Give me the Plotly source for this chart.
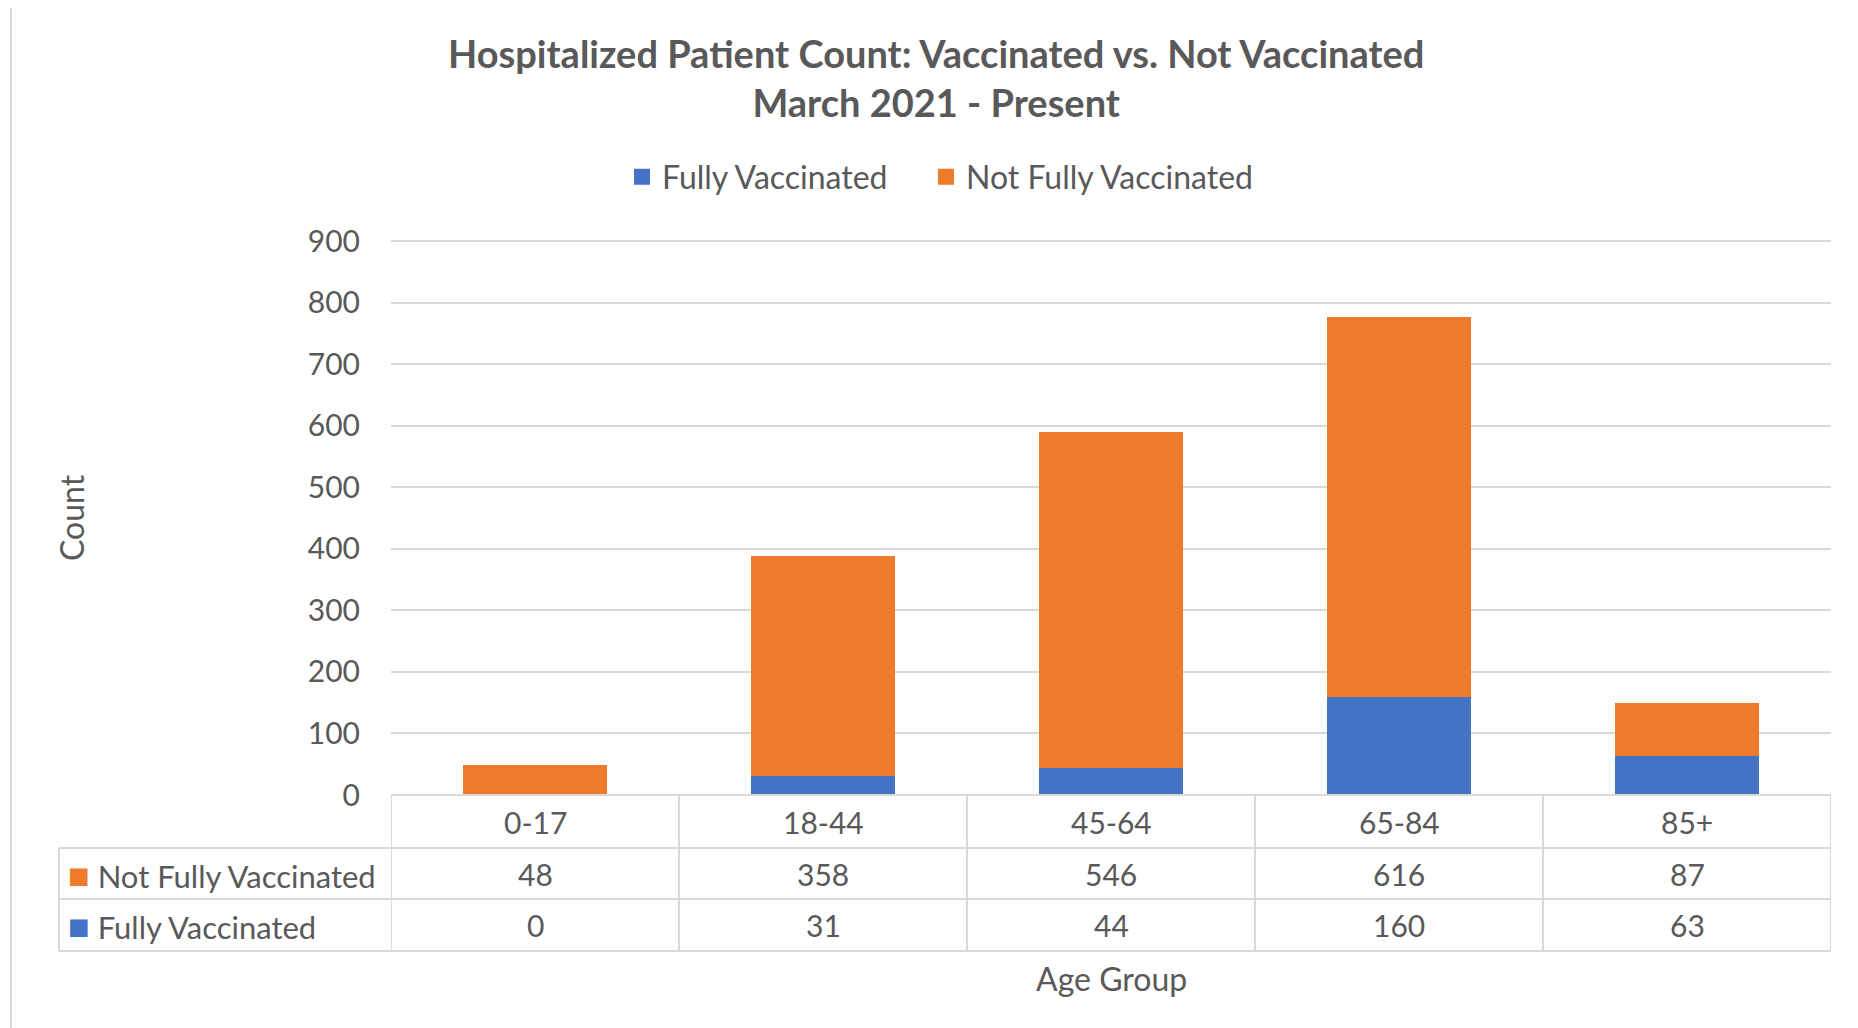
import plotly.graph_objects as go

# ---- data ----
age_groups = ["0-17", "18-44", "45-64", "65-84", "85+"]
fully_vaccinated = [0, 31, 44, 160, 63]
not_fully_vaccinated = [48, 358, 546, 616, 87]
y_ticks = [0, 100, 200, 300, 400, 500, 600, 700, 800, 900]
series_names = ["Fully Vaccinated", "Not Fully Vaccinated"]

W, H = 1858, 1028
OFF = 8  # page body margin
FONT = "Lato"
TXT = "#595959"
GRID = "#D9D9D9"
BLUE = "#4472C4"
ORANGE = "#EE7A2C"


def px(x):
    return (x - OFF) / W


def py(y):
    return 1 - (y - OFF) / H


PLOT_L, PLOT_R, PLOT_T, PLOT_B = 391, 1831, 241, 795
ROW1, ROW2, ROW3 = 848, 899, 951
TABLE_L = 59
YMAX = 905
top_px = PLOT_B - (PLOT_B - PLOT_T) * YMAX / 900

fig = go.Figure()
fig.add_trace(go.Bar(x=age_groups, y=fully_vaccinated, name=series_names[0], showlegend=False,
                     marker=dict(color=BLUE, line=dict(width=0)), width=0.5))
fig.add_trace(go.Bar(x=age_groups, y=not_fully_vaccinated, name=series_names[1], showlegend=False,
                     marker=dict(color=ORANGE, line=dict(width=0)), width=0.5))
# legend entries with square swatches (one legend box per entry)
for name, col, lg in zip(series_names, [BLUE, ORANGE], ["legend", "legend2"]):
    fig.add_trace(go.Scatter(x=[None], y=[None], mode="markers", name=name, legend=lg,
                             marker=dict(symbol="square", size=16, color=col, line=dict(width=0))))

shapes = []
# outer chart border (left & top)
shapes.append(dict(type="line", xref="paper", yref="paper", x0=px(11), x1=px(11), y0=py(5), y1=0,
                   line=dict(color=GRID, width=2)))
shapes.append(dict(type="line", xref="paper", yref="paper", x0=px(11), x1=1, y0=py(5), y1=py(5),
                   line=dict(color=GRID, width=2)))
# table horizontal lines
for yy in [PLOT_B, ROW1, ROW2, ROW3]:
    x0 = PLOT_L if yy == PLOT_B else TABLE_L
    shapes.append(dict(type="line", xref="paper", yref="paper", x0=px(x0), x1=px(PLOT_R),
                       y0=py(yy), y1=py(yy), line=dict(color=GRID, width=2), layer="above"))
# table vertical lines at category boundaries
for i in range(len(age_groups) + 1):
    shapes.append(dict(type="line", xref="x", yref="paper", x0=i - 0.5, x1=i - 0.5,
                       y0=py(PLOT_B), y1=py(ROW3), line=dict(color=GRID, width=2)))
shapes.append(dict(type="line", xref="paper", yref="paper", x0=px(TABLE_L), x1=px(TABLE_L),
                   y0=py(ROW1), y1=py(ROW3), line=dict(color=GRID, width=2)))

annotations = []
nfont = dict(family=FONT, size=30, color=TXT)
lfont = dict(family=FONT, size=32, color=TXT)
rfont = dict(family=FONT, size=31, color=TXT)
for i, cat in enumerate(age_groups):
    annotations.append(dict(x=i, y=py((PLOT_B + ROW1) / 2), xref="x", yref="paper", text=cat,
                            showarrow=False, font=nfont, xanchor="center", yanchor="middle"))
    annotations.append(dict(x=i, y=py((ROW1 + ROW2) / 2), xref="x", yref="paper",
                            text=str(not_fully_vaccinated[i]), showarrow=False, font=nfont,
                            xanchor="center", yanchor="middle"))
    annotations.append(dict(x=i, y=py((ROW2 + ROW3) / 2), xref="x", yref="paper",
                            text=str(fully_vaccinated[i]), showarrow=False, font=nfont,
                            xanchor="center", yanchor="middle"))
for name, col, yc in [(series_names[1], ORANGE, (ROW1 + ROW2) / 2),
                      (series_names[0], BLUE, (ROW2 + ROW3) / 2)]:
    annotations.append(dict(x=px(66), y=py(yc), xref="paper", yref="paper",
                            text=f"<span style='color:{col};font-size:36px'>■</span> {name}",
                            showarrow=False, font=rfont, xanchor="left", yanchor="middle"))
# axis titles
annotations.append(dict(x=px((PLOT_L + PLOT_R) / 2), y=py(978), xref="paper", yref="paper",
                        text="Age Group", showarrow=False, font=lfont, xanchor="center", yanchor="middle"))
annotations.append(dict(x=px(71), y=py((PLOT_T + PLOT_B) / 2), xref="paper", yref="paper",
                        text="Count", textangle=-90, showarrow=False, font=lfont,
                        xanchor="center", yanchor="middle"))
# title
annotations.append(dict(x=px(936), y=py(78), xref="paper", yref="paper",
                        text="<b>Hospitalized Patient Count: Vaccinated vs. Not Vaccinated<br>March 2021 - Present</b>",
                        showarrow=False, font=dict(family=FONT, size=38, color=TXT),
                        xanchor="center", yanchor="middle", align="center"))

legend_common = dict(orientation="h", yanchor="middle", y=py(177), xanchor="left",
                     font=dict(family=FONT, size=32, color=TXT), itemwidth=30,
                     itemsizing="trace", bgcolor="rgba(0,0,0,0)", borderwidth=0)

fig.update_layout(
    width=W, height=H,
    margin=dict(l=0, r=0, t=0, b=0, autoexpand=False),
    paper_bgcolor="white", plot_bgcolor="white",
    barmode="stack", bargap=0.5,
    font=dict(family=FONT, color=TXT),
    showlegend=True,
    legend=dict(x=px(622), **legend_common),
    legend2=dict(x=px(926), **legend_common),
    shapes=shapes,
    annotations=annotations,
)
fig.update_xaxes(domain=[px(PLOT_L), px(PLOT_R)], range=[-0.5, len(age_groups) - 0.5],
                 showticklabels=False, showgrid=False, zeroline=False, showline=False, ticks="")
fig.update_yaxes(domain=[py(PLOT_B), py(top_px)], range=[0, YMAX], tickvals=y_ticks,
                 showgrid=True, gridcolor=GRID, gridwidth=2, zeroline=False, showline=False,
                 tickfont=nfont, ticklabelstandoff=30)

fig.write_html("out.html")
